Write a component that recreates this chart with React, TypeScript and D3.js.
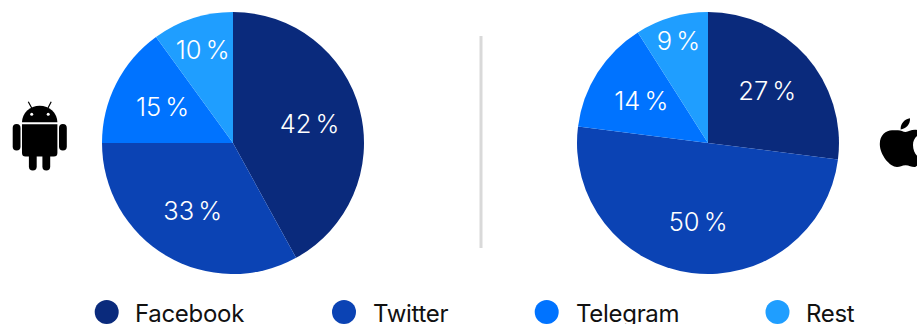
import React from "react";
import * as d3 from "d3";

const WIDTH = 917;
const HEIGHT = 324;

const categories = ["Facebook", "Twitter", "Telegram", "Rest"];
const colors = ["#0A2A7C", "#0B43B4", "#0073FF", "#1F9EFF"];
const androidValues = [42, 33, 15, 10];
const iosValues = [27, 50, 14, 9];

const androidLabelRadius = [79, 79, 79, 98];
const iosLabelRadius = [79, 79, 79, 106];
const legendDotX = [106.7, 344, 546.7, 777.5];
const legendTextX = [135, 373, 576, 806];

const pieRadius = 131;
const pieY = 143;
const font = "Inter, 'Noto Sans', sans-serif";

const pie = d3.pie<number>().sort(null).startAngle(0).endAngle(2 * Math.PI);
const arc = d3.arc<d3.PieArcDatum<number>>().innerRadius(0).outerRadius(pieRadius);

function Pie({ cx, values, labelRadius }: { cx: number; values: number[]; labelRadius: number[] }) {
  return (
    <g transform={`translate(${cx},${pieY})`}>
      {pie(values).map((d, i) => {
        const [x, y] = d3
          .arc<d3.PieArcDatum<number>>()
          .innerRadius(labelRadius[i])
          .outerRadius(labelRadius[i])
          .centroid(d);
        return (
          <g key={i}>
            <path d={arc(d) ?? ""} fill={colors[i]} />
            <text
              x={x}
              y={y}
              dy="0.36em"
              textAnchor="middle"
              fill="#fff"
              fontFamily={font}
              fontSize={25.5}
              fontWeight={300}
              style={{ wordSpacing: "-3px" }}
            >
              {`${d.data} %`}
            </text>
          </g>
        );
      })}
    </g>
  );
}

function AndroidIcon() {
  return (
    <g fill="#000">
      <path d="M22 122.3 A17.7 16.6 0 0 1 57.4 122.3 Z" />
      <path d="M31.7 108 L28.3 101.7 M48 108 L51.2 101.7" stroke="#000" strokeWidth={1.2} />
      <circle cx={31.7} cy={114.3} r={1.5} fill="#fff" />
      <circle cx={48.2} cy={114.3} r={1.5} fill="#fff" />
      <path d="M22 124.2 H57.4 V153 a3.5 3.5 0 0 1 -3.5 3.5 H25.5 a3.5 3.5 0 0 1 -3.5 -3.5 Z" />
      <rect x={12.7} y={124} width={7.8} height={26.5} rx={3.9} />
      <rect x={59} y={124} width={7.8} height={26.5} rx={3.9} />
      <rect x={28.9} y={145} width={7.8} height={25.5} rx={3.9} />
      <rect x={42.4} y={145} width={7.8} height={25.5} rx={3.9} />
    </g>
  );
}

function AppleIcon() {
  return (
    <g fill="#000">
      <path d="M900.6 129.4 C900.4 123.6 904.6 119 910 118.2 C910.5 124 905.8 129 900.6 129.4 Z" />
      <path d="M898 130.3 C901 130.3 903 132 905.6 132 C908.4 132 911 129.6 915.5 129.8 C917.5 130 919.5 131 921 133.2 C916 136 913 139.5 913 145 C913 152 917 157 921 159 C919 165 916 167 914.5 167 C911 167 909.2 165.2 905.6 165.2 C902 165.2 900 167 897 167 C890 167 879.8 155 879.8 144 C879.8 135 886 130.3 892 130.3 C894.4 130.3 896 130.3 898 130.3 Z" />
    </g>
  );
}

export default function App() {
  return (
    <svg
      width={WIDTH}
      height={HEIGHT}
      viewBox={`0 0 ${WIDTH} ${HEIGHT}`}
      style={{ position: "absolute", left: 0, top: 0, display: "block" }}
    >
      <rect width={WIDTH} height={HEIGHT} fill="#fff" />
      <AndroidIcon />
      <Pie cx={233} values={androidValues} labelRadius={androidLabelRadius} />
      <line x1={481} x2={481} y1={36} y2={248} stroke="#D9D9D9" strokeWidth={3} />
      <Pie cx={708} values={iosValues} labelRadius={iosLabelRadius} />
      <AppleIcon />
      {categories.map((name, i) => (
        <g key={name}>
          <circle cx={legendDotX[i]} cy={312} r={12} fill={colors[i]} />
          <text
            x={legendTextX[i]}
            y={321.5}
            fontFamily={font}
            fontSize={24}
            letterSpacing={-0.3}
            fill="#111"
          >
            {name}
          </text>
        </g>
      ))}
    </svg>
  );
}
